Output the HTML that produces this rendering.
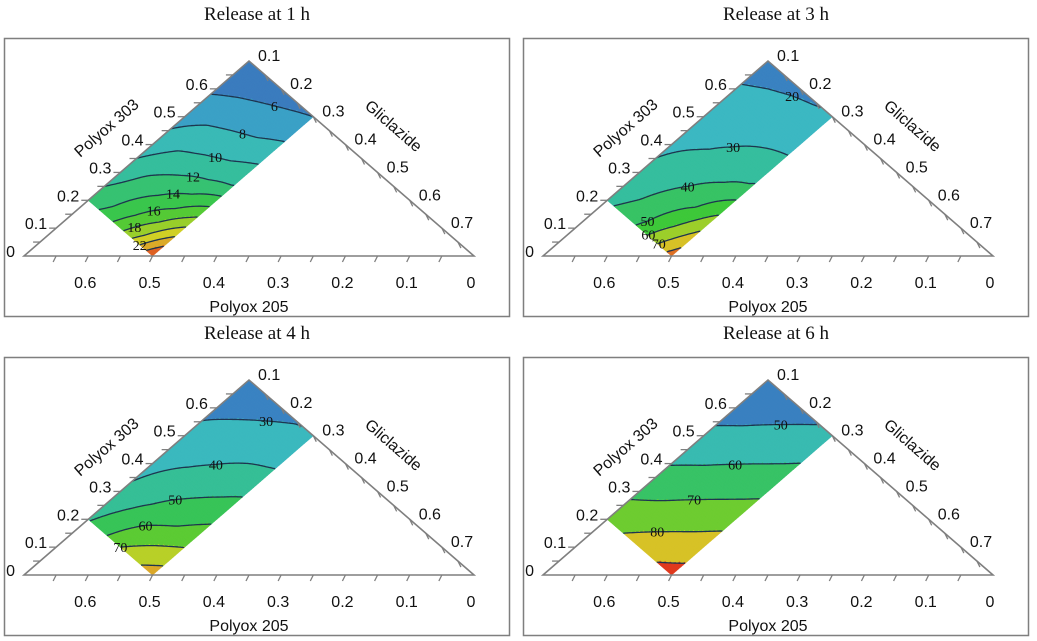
<!DOCTYPE html>
<html><head><meta charset="utf-8">
<style>
html,body{margin:0;padding:0;background:#fff;}
svg{display:block;}
.tk{font-family:"Liberation Sans",sans-serif;font-size:16px;fill:#111;}
.ttl{font-family:"Liberation Serif",serif;font-size:19px;fill:#111;}
.cl{font-family:"Liberation Serif",serif;font-size:14px;fill:#111;}
</style></head>
<body>
<svg id="fig" width="1037" height="641" viewBox="0 0 1037 641" xmlns="http://www.w3.org/2000/svg"></svg>
<script>
// ---- data (grid rows: u = 0,.25,.5,.75,1 from top vertex toward left edge point; cols: v = 0..1 toward right edge point)
const titles = ["Release at 1 h","Release at 3 h","Release at 4 h","Release at 6 h"];
const grid1h = [[4,4.5,5,5.5,6],[6.1,6.8,7.4,8.0,8.8],[8.1,9.5,10.3,11,12.1],[10.5,12.3,13.8,15.8,18.8],[13,14.5,17.3,21,26]];
const grid3h = [[15,17,18.5,19.5,21],[22.5,24.5,26,27.5,28.7],[26.5,29,32,36,41],[31,36,42,50,64],[38,43,52,68,85]];
const grid4h = [[22,24.5,27,29.5,31],[29,32,35,38,40.5],[35,39,43,48,53],[40.5,47,54,60,66],[49,58,70,78,85]];
const grid6h = [[40,43,46,49.3,52.9],[47.4,50.7,54.3,58,61.9],[55.8,59.5,63.5,67.6,71.9],[65.1,69.3,73.7,78.2,82.9],[76.5,80,85,89.7,93.6]];
const levels1h = [6,8,10,12,14,16,18,20,22,24];
const levels3h = [20,30,40,50,60,70,80];
const levels4h = [30,40,50,60,70,80];
const levels6h = [50,60,70,80,90];
const labelLevels1h = [6,8,10,12,14,16,18,22];
const labelLevels3h = [20,30,40,50,60,70];
const labelLevels4h = [30,40,50,60,70];
const labelLevels6h = [50,60,70,80];
const bottomTicks = ["0","0.1","0.2","0.3","0.4","0.5","0.6"];
const leftTicks = ["0","0.1","0.2","0.3","0.4","0.5","0.6"];
const rightTicks = ["0.1","0.2","0.3","0.4","0.5","0.6","0.7"];

const NS="http://www.w3.org/2000/svg";
const svg=document.getElementById('fig');
function mk(tag,attrs,parent){const e=document.createElementNS(NS,tag);for(const k in attrs)e.setAttribute(k,attrs[k]);(parent||svg).appendChild(e);return e;}
const stops=[[0,'#3b6db5'],[0.1,'#3a8ec8'],[0.18,'#3cb8c4'],[0.32,'#36be9c'],[0.46,'#38c45a'],[0.56,'#3cc83a'],[0.66,'#8ccf2c'],[0.78,'#d4d026'],[0.88,'#dca22a'],[1,'#e03a1e']];
function hx(c){return [parseInt(c.substr(1,2),16),parseInt(c.substr(3,2),16),parseInt(c.substr(5,2),16)];}
function cmap(t){t=Math.max(0,Math.min(1,t));for(let i=1;i<stops.length;i++){if(t<=stops[i][0]){const a=stops[i-1],b=stops[i];const f=(t-a[0])/(b[0]-a[0]);const A=hx(a[1]),B=hx(b[1]);return 'rgb('+A.map((x,j)=>Math.round(x+(B[j]-x)*f)).join(',')+')';}}return stops[stops.length-1][1];}

const panels=[
 {t:titles[0],grid:grid1h,lv:levels1h,lab:labelLevels1h,vmin:4,vmax:26,ox:0,oy:0,lv0:0.6},
 {t:titles[1],grid:grid3h,lv:levels3h,lab:labelLevels3h,vmin:10,vmax:90,ox:519,oy:0,lv0:0.5},
 {t:titles[2],grid:grid4h,lv:levels4h,lab:labelLevels4h,vmin:20,vmax:95,ox:0,oy:319,lv0:0.5},
 {t:titles[3],grid:grid6h,lv:levels6h,lab:labelLevels6h,vmin:42,vmax:95,ox:519,oy:319,lv0:0.5}
];
const T=[249,61],L=[24,256],R=[474,256];
const Lp=[L[0]+4/14*(T[0]-L[0]),L[1]+4/14*(T[1]-L[1])];
const Rp=[T[0]+4/14*(R[0]-T[0]),T[1]+4/14*(R[1]-T[1])];
function P(u,v){return [T[0]+u*(Lp[0]-T[0])+v*(Rp[0]-T[0]),T[1]+u*(Lp[1]-T[1])+v*(Rp[1]-T[1])];}
function val(g,u,v){const a=u*4,b=v*4;let i=Math.min(3,Math.floor(a)),j=Math.min(3,Math.floor(b));const fu=a-i,fv=b-j;
 return g[i][j]*(1-fu)*(1-fv)+g[i+1][j]*fu*(1-fv)+g[i][j+1]*(1-fu)*fv+g[i+1][j+1]*fu*fv;}
function bandColor(p,x){const lv=p.lv;let k=0;while(k<lv.length&&x>=lv[k])k++;const st=lv[1]-lv[0];
 const mid=k==0?lv[0]-st/2:(k==lv.length?lv[lv.length-1]+st/2:(lv[k-1]+lv[k])/2);return cmap((mid-p.vmin)/(p.vmax-p.vmin));}
const pt=a=>a[0].toFixed(2)+','+a[1].toFixed(2);

panels.forEach((p,pi)=>{
 const g=mk('g',{transform:`translate(${p.ox},${p.oy})`});
 
 
 const tt=mk('text',{x:257,y:20,'text-anchor':'middle',class:'ttl'},g);tt.textContent=p.t;
 
 const box=mk('rect',{x:4.5,y:38.5,width:505,height:278,fill:'none',stroke:'#7f7f7f','stroke-width':1.5},g);
 
 const N=70;const fg=mk('g',{},g);
 
 for(let i=0;i<N;i++)for(let j=0;j<N;j++){
  const c=bandColor(p,val(p.grid,(i+.5)/N,(j+.5)/N));
  mk('polygon',{points:[P(i/N,j/N),P((i+1)/N,j/N),P((i+1)/N,(j+1)/N),P(i/N,(j+1)/N)].map(pt).join(' '),fill:c,stroke:c,'stroke-width':0.6},fg);
 }
 const M=70;const V=[];for(let i=0;i<=M;i++){V.push([]);for(let j=0;j<=M;j++)V[i].push(val(p.grid,i/M,j/M));}
 const lg=mk('g',{stroke:'#1d3550','stroke-width':1.3,fill:'none'},g);
 
 p.lv.forEach(lev=>{
  let d='';let best=null,bd=1e9;
  for(let i=0;i<M;i++)for(let j=0;j<M;j++){
   const c=[[i,j],[i,j+1],[i+1,j+1],[i+1,j]];const pts=[];
   for(let e=0;e<4;e++){const a=c[e],b=c[(e+1)%4];const va=V[a[0]][a[1]],vb=V[b[0]][b[1]];
    if((va<lev)!=(vb<lev)){const f=(lev-va)/(vb-va);pts.push([(a[0]+f*(b[0]-a[0]))/M,(a[1]+f*(b[1]-a[1]))/M]);}}
   for(let k=0;k+1<pts.length;k+=2){d+='M'+pt(P(...pts[k]))+'L'+pt(P(...pts[k+1]));
    const dv=Math.abs(pts[k][1]-p.lv0);if(dv<bd){bd=dv;best=pts[k];}}
  }
  if(d){const path=mk('path',{d:d},lg);}
  if(best&&p.lab.indexOf(lev)>=0){const q=P(best[0],best[1]);
   const tx=mk('text',{x:q[0],y:q[1]+5,'text-anchor':'middle',class:'cl'},g);tx.textContent=lev;
   }
 });
 const tri=mk('path',{d:`M${pt(L)}L${pt(R)}L${pt(T)}Z`,fill:'none',stroke:'#7f7f7f','stroke-width':1.6},g);
 
 for(let i=1;i<14;i++){
  const f=i/14;
  const b=[R[0]+f*(L[0]-R[0]),R[1]];mk('line',{x1:b[0],y1:b[1],x2:b[0]-3,y2:b[1]+6,stroke:'#7f7f7f','stroke-width':1.3},g);
  const l=[L[0]+f*(T[0]-L[0]),L[1]+f*(T[1]-L[1])];mk('line',{x1:l[0],y1:l[1],x2:l[0]-7,y2:l[1],stroke:'#7f7f7f','stroke-width':1.3},g);
  const r=[T[0]+f*(R[0]-T[0]),T[1]+f*(R[1]-T[1])];mk('line',{x1:r[0],y1:r[1],x2:r[0]+3,y2:r[1]+6,stroke:'#7f7f7f','stroke-width':1.3},g);
 }
 bottomTicks.forEach((s,k)=>{const f=2*k/14;const x=R[0]+f*(L[0]-R[0]);
  const t=mk('text',{x:x-3,y:288,'text-anchor':'middle',class:'tk'},g);t.textContent=s;
  });
 leftTicks.forEach((s,k)=>{const f=2*k/14;const x=L[0]+f*(T[0]-L[0]),y=L[1]+f*(T[1]-L[1]);
  const t=mk('text',{x:x-9,y:y+1,'text-anchor':'end',class:'tk'},g);t.textContent=s;
  });
 rightTicks.forEach((s,k)=>{const f=2*k/14;const x=T[0]+f*(R[0]-T[0]),y=T[1]+f*(R[1]-T[1]);
  const t=mk('text',{x:x+9,y:y,'text-anchor':'start',class:'tk'},g);t.textContent=s;
  });
 const a1=mk('text',{x:249,y:312,'text-anchor':'middle',class:'tk'},g);a1.textContent='Polyox 205';
 
 const a2=mk('text',{x:0,y:0,'text-anchor':'middle',class:'tk',transform:'translate(110,132) rotate(-41)'},g);a2.textContent='Polyox 303';
 
 const a3=mk('text',{x:0,y:0,'text-anchor':'middle',class:'tk',transform:'translate(390,130) rotate(41)'},g);a3.textContent='Gliclazide';
 
});
</script>
</body></html>
